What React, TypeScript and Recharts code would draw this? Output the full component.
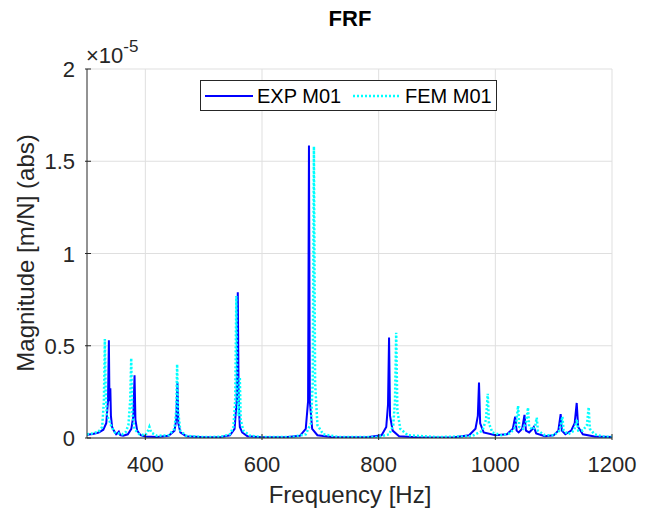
import React from "react"
import { CartesianGrid, Line, LineChart, XAxis, YAxis } from "recharts"

// magnitudes are in units of 1e-5 m/N (the axis shows the x10^-5 factor)
const expFreq = [
  300, 310, 320, 328, 333, 336, 337.5, 338.5, 340, 341, 343, 346, 350, 352, 354.5, 357, 362,
  370, 376, 379.5, 381.5, 383, 386, 392, 400, 420, 440, 450, 453, 455, 456.5, 460, 470,
  500, 530, 545, 553, 556.5, 558.5, 560, 562, 566, 575, 600, 640, 665, 675, 679, 680.5,
  682, 686, 695, 720, 780, 805, 813, 816, 817.8, 819.5, 824, 835, 870, 930, 955, 966,
  970, 972, 974, 980, 1000, 1020, 1030, 1034, 1036.5, 1040, 1046, 1050, 1052.5, 1058,
  1064, 1066, 1070, 1085, 1100, 1108, 1112, 1114, 1120, 1130, 1136, 1139.5, 1142, 1150,
  1170, 1200,
]
const expMag = [
  0.018, 0.022, 0.03, 0.045, 0.08, 0.2, 0.53, 0.2, 0.27, 0.12, 0.06, 0.04, 0.02, 0.025, 0.034, 0.015, 0.012,
  0.02, 0.05, 0.12, 0.34, 0.1, 0.04, 0.015, 0.008, 0.006, 0.012, 0.04, 0.1, 0.3, 0.08, 0.03, 0.01,
  0.004, 0.006, 0.015, 0.05, 0.2, 0.79, 0.2, 0.06, 0.03, 0.01, 0.004, 0.004, 0.012, 0.05, 0.2, 1.585,
  0.2, 0.05, 0.015, 0.005, 0.004, 0.015, 0.06, 0.18, 0.545, 0.12, 0.04, 0.01, 0.003, 0.004, 0.015, 0.05,
  0.12, 0.3, 0.08, 0.03, 0.015, 0.02, 0.05, 0.116, 0.04, 0.03, 0.05, 0.125, 0.04, 0.03,
  0.05, 0.06, 0.025, 0.01, 0.015, 0.04, 0.13, 0.04, 0.02, 0.04, 0.08, 0.19, 0.06, 0.02,
  0.008, 0.005,
]

const femFreq = [
  300, 310, 320, 326, 329, 330.6, 332, 334, 338, 342, 348, 360, 366, 371, 374, 375.8, 377.5,
  381, 390, 400, 404, 407, 410, 420, 440, 450, 453, 454.5, 456, 460, 470, 500, 530, 545,
  551, 554, 556, 557.5, 560, 562, 563.5, 568, 580, 600, 650, 675, 684, 687, 689, 691, 695,
  705, 730, 800, 818, 825, 828, 830, 832, 837, 850, 900, 960, 978, 984, 987, 989, 995,
  1010, 1025, 1035, 1039, 1041, 1048, 1053, 1056, 1058, 1064, 1068, 1071, 1073, 1085,
  1100, 1110, 1115, 1117, 1125, 1135, 1140, 1142, 1150, 1157, 1160, 1162, 1170, 1185, 1200,
]
const femMag = [
  0.02, 0.025, 0.035, 0.06, 0.2, 0.536, 0.25, 0.12, 0.1, 0.06, 0.03, 0.02, 0.03, 0.07, 0.2, 0.433, 0.15,
  0.05, 0.02, 0.015, 0.035, 0.06, 0.03, 0.012, 0.015, 0.05, 0.15, 0.4, 0.15, 0.04, 0.012, 0.005, 0.007, 0.02,
  0.06, 0.2, 0.77, 0.25, 0.12, 0.33, 0.1, 0.04, 0.012, 0.005, 0.005, 0.02, 0.08, 0.3, 1.58, 0.3, 0.07,
  0.02, 0.006, 0.006, 0.02, 0.07, 0.2, 0.57, 0.15, 0.05, 0.015, 0.005, 0.01, 0.04, 0.1, 0.24, 0.08, 0.03,
  0.015, 0.025, 0.06, 0.174, 0.06, 0.05, 0.09, 0.165, 0.06, 0.045, 0.06, 0.11, 0.04, 0.015,
  0.015, 0.04, 0.115, 0.04, 0.02, 0.04, 0.1, 0.04, 0.04, 0.07, 0.167, 0.05, 0.02, 0.008, 0.006,
]

const xTicks = [400, 600, 800, 1000, 1200]
const yTicks = [0, 0.5, 1, 1.5, 2]

const expData = expFreq.map((f, i) => ({ f, v: expMag[i] }))
const femData = femFreq.map((f, i) => ({ f, v: femMag[i] }))

const font = "'Liberation Sans', Arial, sans-serif"
const ink = "#262626"

function XTick({ x, y, payload }: any) {
  return (
    <g>
      <line x1={x} y1={y} x2={x} y2={y - 6} stroke={ink} />
      <text x={x} y={y + 32} textAnchor="middle" fontSize={22} fill={ink} fontFamily={font}>
        {payload.value}
      </text>
    </g>
  )
}

function YTick({ x, y, payload }: any) {
  return (
    <g>
      <line x1={x} y1={y} x2={x + 6} y2={y} stroke={ink} />
      <text x={x - 10} y={y + 8} textAnchor="end" fontSize={22} fill={ink} fontFamily={font}>
        {payload.value}
      </text>
    </g>
  )
}

export default function App() {
  return (
    <div style={{ position: "absolute", left: 0, top: 0, width: 648, height: 510, background: "#fff" }}>
      <LineChart width={648} height={510} margin={{ top: 69, right: 36, left: 0, bottom: 0 }}>
        <CartesianGrid stroke="#dfdfdf" verticalValues={xTicks} horizontalValues={yTicks} />
        <XAxis
          type="number"
          dataKey="f"
          domain={[300, 1200]}
          ticks={xTicks}
          allowDataOverflow
          height={72}
          tickSize={0}
          tickLine={false}
          axisLine={{ stroke: ink }}
          tick={<XTick />}
        />
        <YAxis
          type="number"
          domain={[0, 2]}
          ticks={yTicks}
          allowDataOverflow
          width={87}
          tickSize={0}
          tickLine={false}
          axisLine={{ stroke: ink }}
          tick={<YTick />}
        />
        <Line data={expData} dataKey="v" type="linear" stroke="#0000ff" strokeWidth={2} dot={false} isAnimationActive={false} />
        <Line data={femData} dataKey="v" type="linear" stroke="#00ffff" strokeWidth={2.5} strokeDasharray="2 2" dot={false} isAnimationActive={false} />
      </LineChart>
      <svg width={648} height={510} style={{ position: "absolute", left: 0, top: 0, pointerEvents: "none" }} fontFamily={font}>
        <text x={350} y={26} textAnchor="middle" fontSize={22} fontWeight="bold" fill="#000">FRF</text>
        <text x={86} y={63} fontSize={22} fill={ink}>
          ×10<tspan dy={-11} fontSize={17}>-5</tspan>
        </text>
        <text x={350} y={503} textAnchor="middle" fontSize={24} fill={ink}>Frequency [Hz]</text>
        <text x={34} y={253} textAnchor="middle" fontSize={24} fill={ink} transform="rotate(-90 34 253)">
          Magnitude [m/N] (abs)
        </text>
        <rect x={200.5} y={80.5} width={296} height={30} fill="#fff" stroke={ink} />
        <line x1={205} y1={96} x2={253} y2={96} stroke="#0000ff" strokeWidth={2} />
        <text x={257} y={103} fontSize={20} fill="#000">EXP M01</text>
        <line x1={353} y1={96} x2={401} y2={96} stroke="#00ffff" strokeWidth={2.5} strokeDasharray="2 2" />
        <text x={405} y={103} fontSize={20} fill="#000">FEM M01</text>
      </svg>
    </div>
  )
}
